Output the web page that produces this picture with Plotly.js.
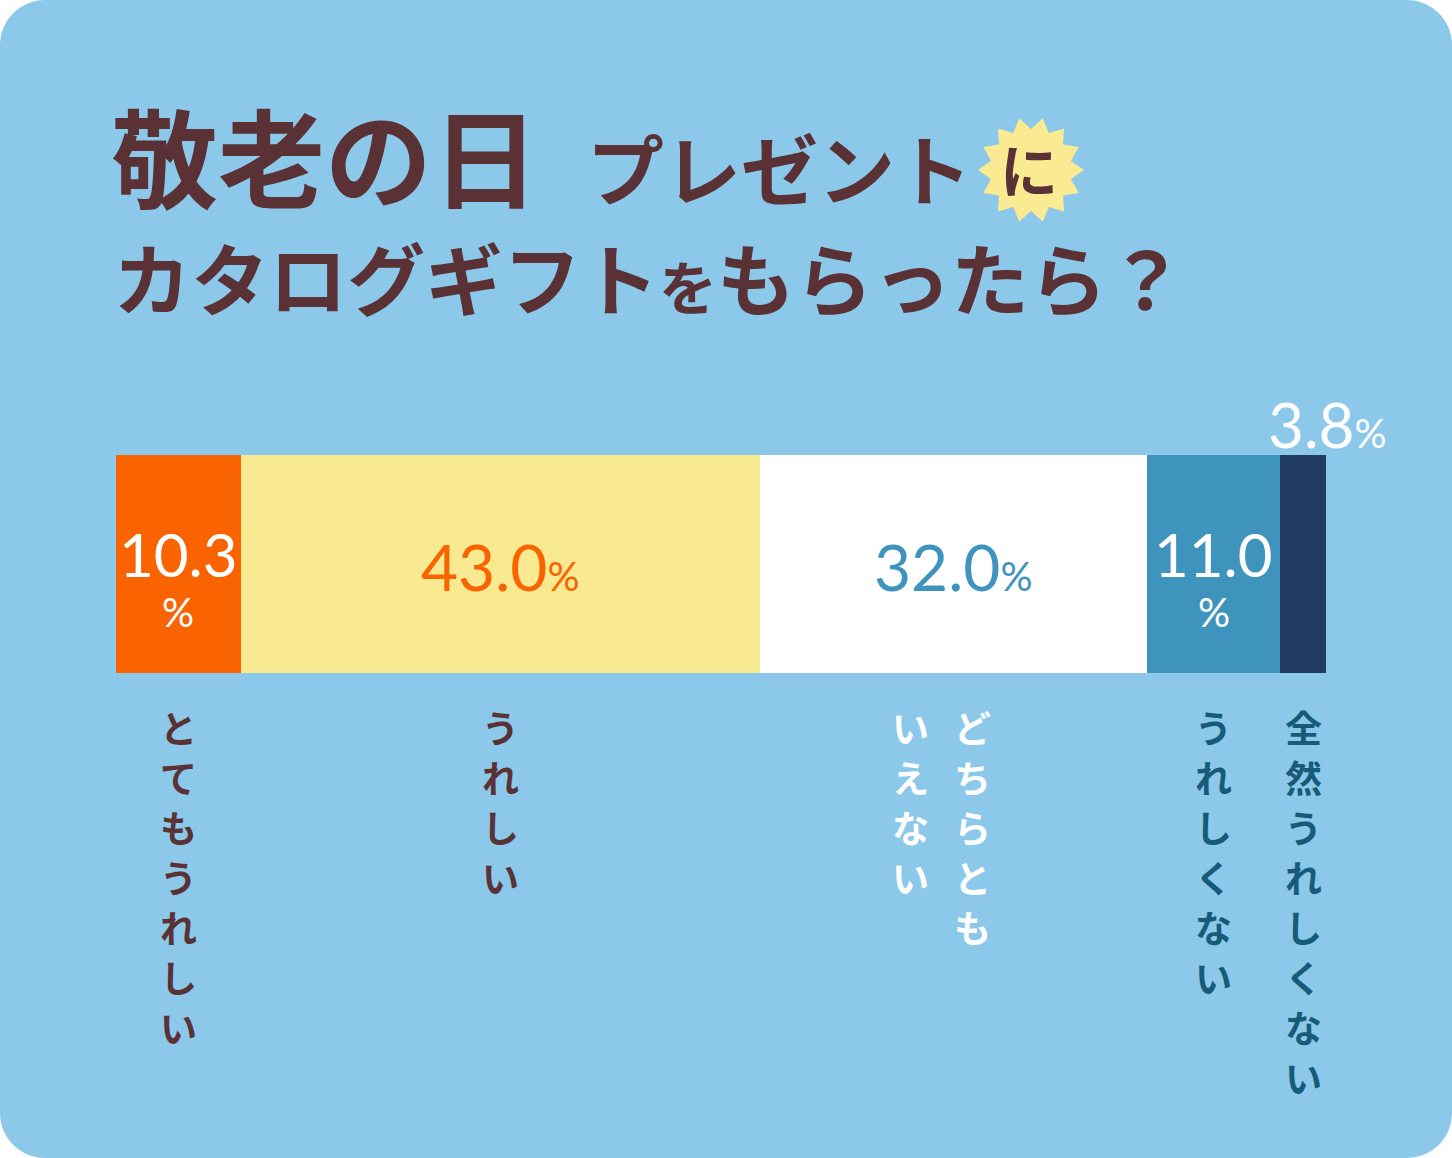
<!DOCTYPE html>
<html>
<head>
<meta charset="utf-8">
<script src="https://cdn.plot.ly/plotly-3.0.1.min.js"></script>
<style>
    html, body { margin: 0; padding: 0; background: #ffffff; }
    #card { width: 1452px; height: 1158px; background: #8BC8EA; border-radius: 45px; overflow: hidden; }
    #chart { width: 1452px; height: 1158px; }
</style>
</head>
<body>
<div id="card"><div id="chart"></div></div>
<script>
// survey answers (| splits a vertical label into columns, read right to left)
const categories = ['とてもうれしい', 'うれしい', 'どちらとも|いえない', 'うれしくない', '全然うれしくない'];
const values = [10.3, 43.0, 32.0, 11.0, 3.8];
const titleLine1 = '敬老の日';
const titleLine1b = 'プレゼント';
const titleBadge = 'に';
const titleLine2 = 'カタログギフト<span style="font-size:58px">を</span>もらったら？';

// colours
const barColors = ['#F96400', '#F9EA92', '#FFFFFF', '#3F94BD', '#223B62'];
const numColors = ['#FFFFFF', '#F96400', '#3F94BD', '#FFFFFF', '#FFFFFF'];
const labelColors = ['#5A3235', '#5A3235', '#FFFFFF', '#165B78', '#165B78'];
const brown = '#5A3235';

const W = 1452, H = 1158;
const m = { l: 116, r: 126, t: 455, b: 485, pad: 0 };

// pixel -> paper (paper is the plot area)
function fx(px) { return (px - m.l) / (W - m.l - m.r); }
function fy(py) { return (H - m.b - py) / (H - m.t - m.b); }

let total = values.reduce((a, b) => a + b, 0);

// stacked bar traces
let data = values.map((v, i) => ({
    type: 'bar',
    orientation: 'h',
    x: [v],
    y: ['q'],
    width: 1,
    name: categories[i],
    marker: { color: barColors[i], line: { width: 0 } },
    hoverinfo: 'skip'
}));

let annotations = [];
let numFont = 'Lato, "Noto Sans", sans-serif';
let jpFont = '"Noto Sans CJK JP", sans-serif';

let cum = 0;
values.forEach((v, i) => {
    let mid = cum + v / 2;
    cum += v;
    let num = v.toFixed(1);

    if (v < 5) {
        // too thin: number above the bar
        annotations.push({
            x: mid, xref: 'x', y: fy(424), yref: 'paper',
            text: num + '<span style="font-size:40px">%</span>',
            showarrow: false, xanchor: 'center', yanchor: 'middle', xshift: 24,
            font: { family: numFont, size: 62, color: numColors[i] }
        });
    } else if (v < 15) {
        // narrow: number and % on two lines
        annotations.push({
            x: mid, xref: 'x', y: fy(554), yref: 'paper',
            text: num, showarrow: false, xanchor: 'center', yanchor: 'middle',
            font: { family: numFont, size: 60, color: numColors[i] }
        });
        annotations.push({
            x: mid, xref: 'x', y: fy(612), yref: 'paper',
            text: '%', showarrow: false, xanchor: 'center', yanchor: 'middle',
            font: { family: numFont, size: 40, color: numColors[i] }
        });
    } else {
        annotations.push({
            x: mid, xref: 'x', y: fy(566), yref: 'paper',
            text: num + '<span style="font-size:40px">%</span>',
            showarrow: false, xanchor: 'center', yanchor: 'middle',
            font: { family: numFont, size: 64, color: numColors[i] }
        });
    }

    // vertical category labels under the bar, one glyph per annotation
    let cols = categories[i].split('|');
    let colGap = 62;
    cols.forEach((c, k) => {
        let shift = (cols.length - 1) / 2 * colGap - k * colGap;
        if (cols.length > 1) shift -= 12;
        c.split('').forEach((ch, j) => {
            annotations.push({
                x: mid, xref: 'x', y: fy(727 + j * 50), yref: 'paper',
                xshift: shift,
                text: ch,
                showarrow: false, xanchor: 'center', yanchor: 'middle', borderpad: 0,
                font: { family: jpFont, size: 37, weight: 700, color: labelColors[i] }
            });
        });
    });
});

// title
annotations.push({
    x: fx(110), y: fy(153), xref: 'paper', yref: 'paper',
    text: titleLine1, showarrow: false, xanchor: 'left', yanchor: 'middle', borderpad: 0,
    font: { family: jpFont, size: 107, weight: 700, color: brown }
});
annotations.push({
    x: fx(586), y: fy(166), xref: 'paper', yref: 'paper',
    text: titleLine1b, showarrow: false, xanchor: 'left', yanchor: 'middle', borderpad: 0,
    font: { family: jpFont, size: 77, weight: 700, color: brown }
});
annotations.push({
    x: fx(1029), y: fy(168), xref: 'paper', yref: 'paper',
    text: titleBadge, showarrow: false, xanchor: 'center', yanchor: 'middle',
    font: { family: jpFont, size: 58, weight: 700, color: brown }
});
annotations.push({
    x: fx(112), y: fy(276), xref: 'paper', yref: 'paper',
    text: titleLine2, showarrow: false, xanchor: 'left', yanchor: 'middle', borderpad: 0,
    font: { family: jpFont, size: 78, weight: 700, color: brown }
});

// starburst behind "に"
function starPath(cx, cy, rOut, rIn, n) {
    let pts = [];
    let step = Math.PI / n;
    for (let k = 0; k < 2 * n; k++) {
        let a = -Math.PI / 2 + step + k * step; // spikes symmetric around the top
        let r = (k % 2 === 0) ? rOut : rIn;
        pts.push([fx(cx + r * Math.cos(a)), fy(cy + r * Math.sin(a))]);
    }
    return 'M' + pts.map(p => p[0].toFixed(5) + ',' + p[1].toFixed(5)).join('L') + 'Z';
}

let layout = {
    width: W,
    height: H,
    margin: m,
    barmode: 'stack',
    bargap: 0,
    showlegend: false,
    paper_bgcolor: 'rgba(0,0,0,0)',
    plot_bgcolor: 'rgba(0,0,0,0)',
    xaxis: { range: [0, total], visible: false, fixedrange: true },
    yaxis: { range: [-0.5, 0.5], visible: false, fixedrange: true },
    annotations: annotations,
    shapes: [{
        type: 'path', xref: 'paper', yref: 'paper',
        path: starPath(1031, 170, 53, 41, 14),
        fillcolor: '#FAEA92', line: { width: 0 }, layer: 'below'
    }]
};

Plotly.newPlot('chart', data, layout, { displayModeBar: false, staticPlot: true });
</script>
</body>
</html>
